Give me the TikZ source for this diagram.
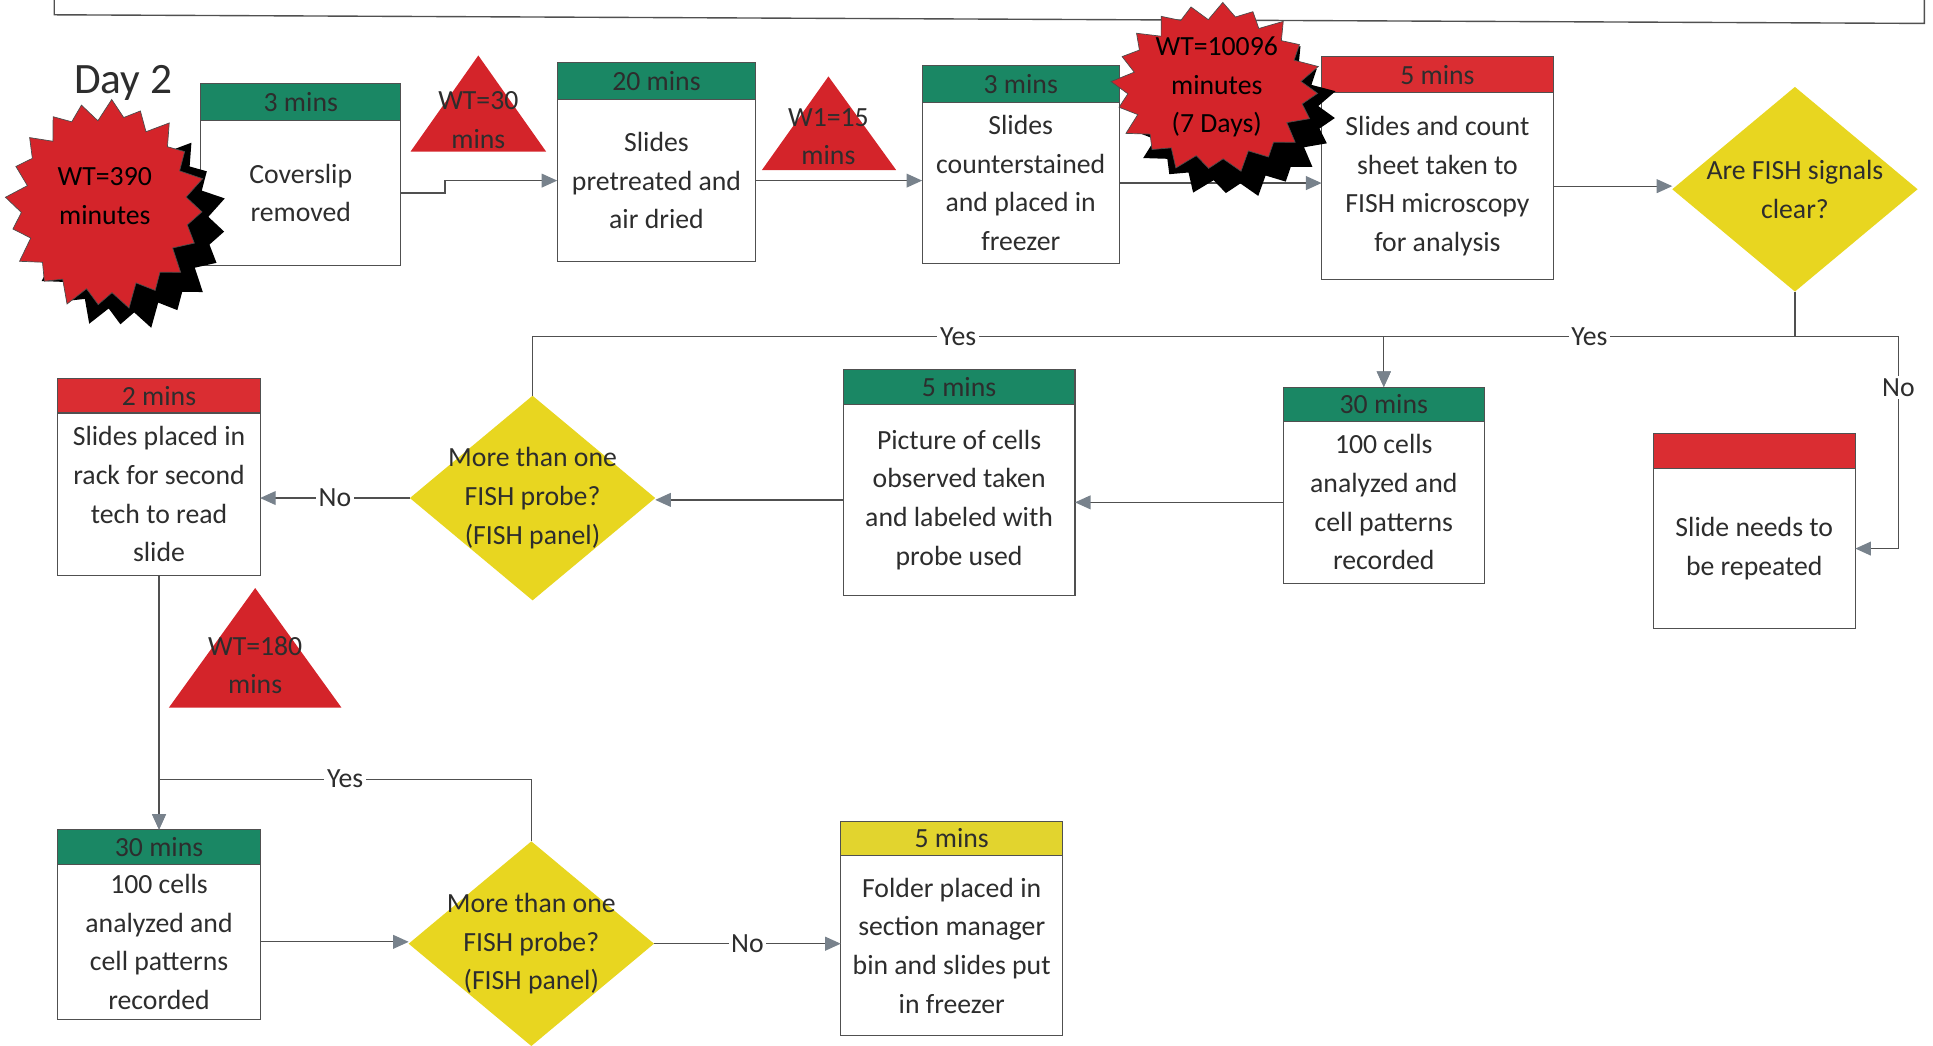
\documentclass[tikz,border=0pt]{standalone}
\usepackage{fontspec}
\setmainfont{Carlito}
\usetikzlibrary{shapes.geometric,arrows.meta}

\definecolor{hgreen}{RGB}{26,135,100}
\definecolor{hred}{RGB}{218,45,50}
\definecolor{bred}{RGB}{212,36,42}
\definecolor{dyellow}{RGB}{232,214,32}
\definecolor{hyellow}{RGB}{226,212,46}
\definecolor{ink}{RGB}{45,45,45}
\definecolor{wirec}{RGB}{80,80,80}
\definecolor{tipgray}{RGB}{120,130,140}

\tikzset{
  txt/.style={font=\fontsize{16}{22.3}\selectfont, text=ink, align=center, inner sep=0pt},
  body/.style={txt, draw=wirec, line width=0.6pt, fill=white, rectangle, inner sep=2pt, outer sep=0pt},
  hdr/.style={txt, draw=wirec, line width=0.6pt, rectangle, inner sep=0pt, outer sep=0pt},
  dia/.style={diamond, fill=dyellow, inner sep=0pt, outer sep=0pt,
              minimum width=199*0.025cm, minimum height=166*0.025cm},
  conn/.style={draw=wirec, line width=0.7pt,
               -{Triangle[length=9pt,width=8pt,color=tipgray,fill=tipgray]}},
  lbl/.style={txt, fill=white, inner sep=1.5pt},
  waitmark/.style={fill=bred},
}

% process box: name, x1, x2, header top, header bottom, bottom, header colour, header text, body text
\newcommand\procbox[9]{%
  \node[body, minimum width={(#3-#2)*0.025cm}, minimum height={(#6-#5)*0.025cm}]
    (#1) at ({(#2+#3)/2},{(#5+#6)/2}) {#9};
  \node[hdr, fill=#7, minimum width={(#3-#2)*0.025cm}, minimum height={(#5-#4)*0.025cm},
    anchor=south] (#1h) at (#1.north) {#8};
}

% twenty-point seal: centre x, centre y, radius x, radius y, options
\newcommand\sealfill[5]{%
  \fill[#5] plot[samples at={0,...,39}]
    ({#1+#3*(ifthenelse(mod(\x,2)==0,1,0.84))*(1+0.035*sin(\x*97))*cos(\x*9+4)},
     {#2+#4*(ifthenelse(mod(\x,2)==0,1,0.84))*(1+0.035*sin(\x*97))*sin(\x*9+4)}) -- cycle;
}

\begin{document}
\begin{tikzpicture}[x=0.025cm, y=-0.025cm]
\useasboundingbox (0,0) rectangle (1568,848);

% frame of the heading box above
\draw[wirec, line width=0.8pt] (44,-5) -- (44,12) -- (1561,19) -- (1561,-5);

% process steps
\procbox{A}{163}{325}{68}{98}{215}{hgreen}{3 mins}{Coverslip\\removed}
\procbox{C}{452}{613}{51}{81}{212}{hgreen}{20 mins}{Slides\\pretreated and\\air dried}
\procbox{E}{748}{908}{53}{83}{214}{hgreen}{3 mins}{Slides\\counterstained\\and placed in\\freezer}
\procbox{G}{1072}{1260}{46}{75}{227}{hred}{5 mins}{Slides and count\\sheet taken to\\FISH microscopy\\for analysis}
\procbox{I}{1341}{1505}{352}{380}{510}{hred}{}{Slide needs to\\be repeated}
\procbox{K}{1041}{1204}{314}{342}{473}{hgreen}{30 mins}{100 cells\\analyzed and\\cell patterns\\recorded}
\procbox{L}{684}{872}{300}{328}{483}{hgreen}{5 mins}{Picture of cells\\observed taken\\and labeled with\\probe used}
\procbox{M}{47}{211}{307}{335}{467}{hred}{2 mins}{Slides placed in\\rack for second\\tech to read\\slide}
\procbox{N}{47}{211}{673}{701}{827}{hgreen}{30 mins}{100 cells\\analyzed and\\cell patterns\\recorded}
\procbox{P}{682}{862}{666}{694}{840}{hyellow}{5 mins}{Folder placed in\\section manager\\bin and slides put\\in freezer}

% decisions
\node[dia] (H) at (1456,153.5) {};
\node[txt] (Ht) at (H) {Are FISH signals\\clear?};
\node[dia] (J) at (432,404) {};
\node[txt] (Jt) at (J) {More than one\\FISH probe?\\(FISH panel)};
\node[dia] (O) at (431,765.5) {};
\node[txt] (Ot) at (O) {More than one\\FISH probe?\\(FISH panel)};

% waiting times
\fill[waitmark] (333,123) -- (388,45) -- (443,123) -- cycle;
\node[txt] (t30) at (388,97.5) {WT=30\\mins};
\fill[waitmark] (618,138) -- (672,62) -- (727,138) -- cycle;
\node[txt] (t15) at (672,111) {W1=15\\mins};
\fill[waitmark] (137,574) -- (207,477) -- (277,574) -- cycle;
\node[txt] (t180) at (207,539.5) {WT=180\\mins};

% connectors
\coordinate (ky) at (1122.5,273);
\coordinate (hn) at (1540,273);
\coordinate (my) at (129,632);
\draw[conn] (A.east) -- ++(36,0) |- (C.west);
\draw[conn] (C.east) -- (C.east -| E.west);
\draw[conn] (E.east) -- (E.east -| G.west);
\draw[conn] (G.east) -- (G.east -| H.west);
\draw[conn] (H.south) -- (H.south |- ky) -- node[lbl]{Yes} (ky) -- (Kh.north);
\draw[conn] (H.south) -- (H.south |- hn) -- (hn) -- node[lbl, pos=0.24]{No} (hn |- I.east) -- (I.east);
\draw[conn] (J.north) -- (J.north |- ky) -- node[lbl]{Yes} (ky) -- (Kh.north);
\draw[conn] (K.west) -- (K.west -| L.east);
\draw[conn] (L.west) -- (L.west -| J.east);
\draw[conn] (J.west) -- node[lbl]{No} (J.west -| M.east);
\draw[conn] (M.south) -- (Nh.north);
\draw[conn] (O.north) -- (O.north |- my) -- node[lbl]{Yes} (my) -- (Nh.north);
\draw[conn] (N.east) -- (N.east -| O.west);
\draw[conn] (O.east) -- node[lbl]{No} (O.east -| P.west);

% long waits
\sealfill{103}{182}{79}{84}{black}
\sealfill{85}{166}{79}{84}{fill=bred, draw=black!70, line width=0.4pt}
\node[txt, text=black] (w390) at (85,159) {WT=390\\minutes};
\sealfill{1000}{91}{83}{68}{black}
\sealfill{986}{71}{83}{68}{fill=bred, draw=black!70, line width=0.4pt}
\node[txt, text=black] (w10096) at (987,70.5) {WT=10096\\minutes\\(7 Days)};

\node[txt, font=\fontsize{25}{30}\selectfont] (day) at (100,67) {Day 2};
\end{tikzpicture}
\end{document}
